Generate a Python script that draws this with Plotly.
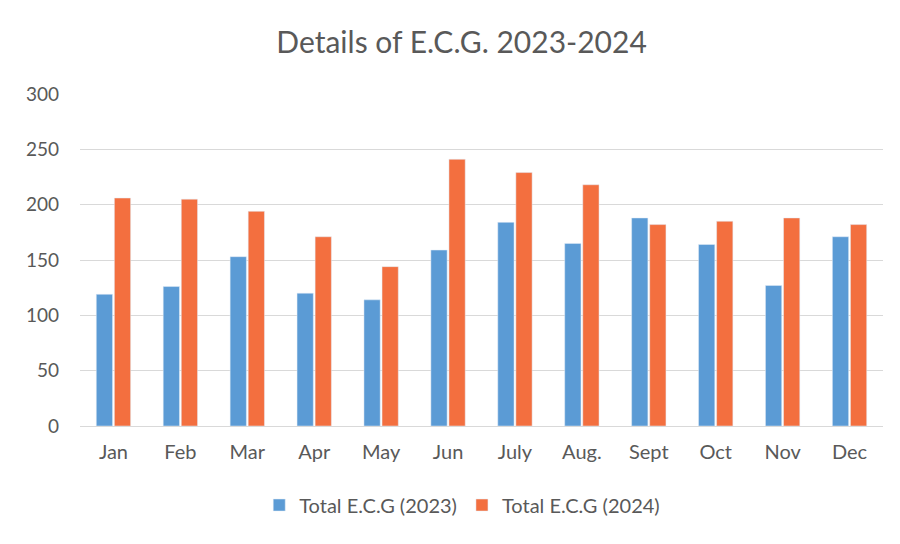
import plotly.graph_objects as go

months = ["Jan", "Feb", "Mar", "Apr", "May", "Jun", "July", "Aug.", "Sept", "Oct", "Nov", "Dec"]
ecg_2023 = [119, 126, 153, 120, 114, 159, 184, 165, 188, 164, 127, 171]
ecg_2024 = [206, 205, 194, 171, 144, 241, 229, 218, 182, 185, 188, 182]
y_ticks = [0, 50, 100, 150, 200, 250, 300]

fig = go.Figure()
fig.add_trace(go.Bar(x=months, y=ecg_2023, name="Total E.C.G (2023)", marker_color="#5B9BD5"))
fig.add_trace(go.Bar(x=months, y=ecg_2024, name="Total E.C.G (2024)", marker_color="#F36F3F"))

fig.update_layout(
    width=900, height=544,
    paper_bgcolor="white", plot_bgcolor="white",
    margin=dict(l=72, r=25, t=86, b=126),
    font=dict(family="Lato, Open Sans, sans-serif", color="#595959", size=19),
    title=dict(text="Details of E.C.G. 2023-2024", x=0.504, xanchor="center", y=0.936, yanchor="middle",
               font=dict(size=30, color="#595959")),
    barmode="group", bargap=0.46, bargroupgap=0.1,
    legend=dict(orientation="h", x=0.476, xanchor="center", y=-0.238, yanchor="middle",
                font=dict(size=20, color="#595959"), traceorder="normal"),
    xaxis=dict(showgrid=False, showline=True, linecolor="#D9D9D9", ticks="", ticklabelstandoff=8,
               tickfont=dict(size=20)),
    yaxis=dict(range=[0, 300], tickvals=y_ticks, showgrid=True, gridcolor="#D9D9D9",
               zeroline=False, showline=False, ticks="", ticklabelstandoff=20, tickfont=dict(size=19)),
)

fig.write_html("out.html")
